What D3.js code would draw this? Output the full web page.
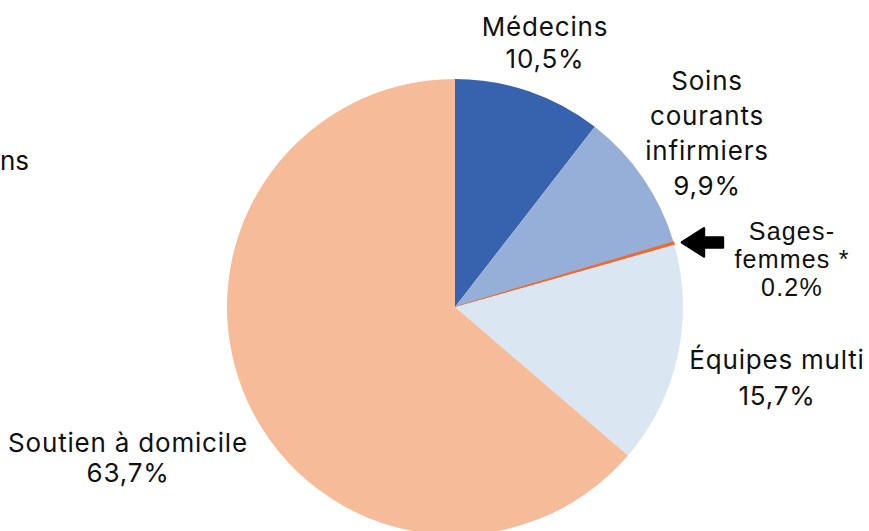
<!DOCTYPE html>
<html>
<head>
<meta charset="utf-8">
<script src="https://d3js.org/d3.v7.min.js"></script>
<style>
  body { margin: 0; background: #fff; }
  text { font-family: Inter, "Noto Sans", sans-serif; fill: #111; }
</style>
</head>
<body>
<svg id="svg"></svg>
<script>
  // data, clockwise from 12 o'clock
  let categories = ['Médecins', 'Soins courants infirmiers', 'Sages-femmes', 'Équipes multi', 'Soutien à domicile'];
  let values = [10.5, 9.9, 0.2, 15.7, 63.7];
  let valueLabels = ['10,5%', '9,9%', '0.2%', '15,7%', '63,7%'];
  let nameLines = [['Médecins'], ['Soins', 'courants', 'infirmiers'], ['Sages-', 'femmes *'], ['Équipes multi'], ['Soutien à domicile']];
  let colors = ['#3762ae', '#95afd9', '#ec6a2c', '#dbe6f3', '#f6bc99'];

  let width = 869;
  let height = 531;
  let cx = 455, cy = 307, radius = 228;

  let svg = d3.select('#svg')
    .attr('width', width)
    .attr('height', height);

  let pie = d3.pie().sort(null).value(d => d.value);
  let arcs = pie(categories.map((c, i) => ({ name: c, value: values[i], i: i })));

  let arc = d3.arc().innerRadius(0).outerRadius(radius);

  let g = svg.append('g').attr('transform', `translate(${cx},${cy})`);

  g.selectAll('path')
    .data(arcs)
    .enter()
    .append('path')
    .attr('d', arc)
    .attr('fill', d => colors[d.data.i])
    .attr('stroke', d => d.data.i == 2 ? colors[2] : 'none')
    .attr('stroke-width', 1.2);

  // label placement (center x, first baseline, line gap, font)
  let labelPos = [
    { x: 545, y: 36, gap: 32, size: 26, ls: 0.8, font: null },
    { x: 707, y: 90, gap: 35, size: 26, ls: 0.8, font: null },
    { x: 792, y: 240, gap: 28, size: 25, ls: 1.2, font: '"Liberation Sans", Arial, sans-serif' },
    { x: 777, y: 369, gap: 36, size: 26, ls: 0.8, font: null },
    { x: 128, y: 452, gap: 30, size: 26, ls: 0.8, font: null }
  ];

  arcs.forEach((d, i) => {
    let p = labelPos[i];
    let lines = nameLines[i].concat([valueLabels[i]]);
    let t = svg.append('text')
      .attr('text-anchor', 'middle')
      .style('font-size', p.size + 'px')
      .style('letter-spacing', p.ls + 'px');
    if (p.font) t.style('font-family', p.font);
    lines.forEach((l, k) => {
      t.append('tspan').attr('x', p.x).attr('y', p.y + k * p.gap).text(l);
    });
  });

  // arrow pointing at the thin Sages-femmes slice
  let a = (arcs[2].startAngle + arcs[2].endAngle) / 2;
  let ex = cx + Math.sin(a) * radius + 8, ey = cy - Math.cos(a) * radius - 1;
  svg.append('path')
    .attr('d', `M${ex},${ey} l22,-14 l0,9 l19,0 l0,10 l-19,0 l0,9 z`)
    .attr('fill', '#000')
    .attr('stroke', '#000')
    .attr('stroke-linejoin', 'round')
    .attr('stroke-width', 2.5);

  // the part of a text that shows at the left edge
  svg.append('text')
    .attr('x', 0)
    .attr('y', 170)
    .style('font-size', '26px')
    .text('ns');
</script>
</body>
</html>
